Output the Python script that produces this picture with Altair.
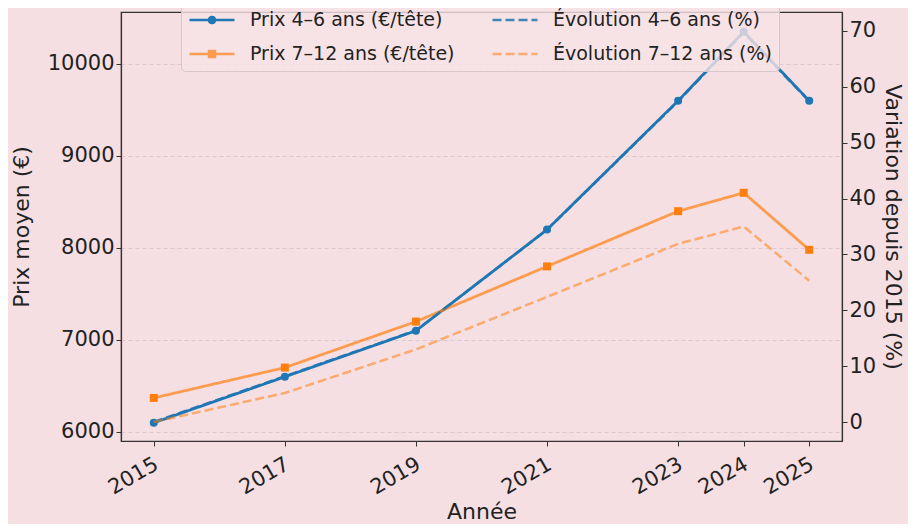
import altair as alt
import pandas as pd

years = [2015, 2017, 2019, 2021, 2023, 2024, 2025]
prix_4_6 = [6100, 6600, 7100, 8200, 9600, 10350, 9600]
prix_7_12 = [6370, 6700, 7200, 7800, 8400, 8600, 7980]
evol_4_6 = [0.0, 8.2, 16.4, 34.4, 57.4, 69.7, 57.4]
evol_7_12 = [0.0, 5.2, 13.0, 22.4, 31.9, 35.0, 25.3]

S_P46 = "Prix 4–6 ans (€/tête)"
S_P712 = "Prix 7–12 ans (€/tête)"
S_E46 = "Évolution 4–6 ans (%)"
S_E712 = "Évolution 7–12 ans (%)"

BG = "#f6dfe3"
FONT = "DejaVu Sans"

price = pd.DataFrame(
    [{"year": y, "price": v, "series": S_P46} for y, v in zip(years, prix_4_6)]
    + [{"year": y, "price": v, "series": S_P712} for y, v in zip(years, prix_7_12)]
)
pct = pd.DataFrame(
    [{"year": y, "pct": v, "series": S_E46} for y, v in zip(years, evol_4_6)]
    + [{"year": y, "pct": v, "series": S_E712} for y, v in zip(years, evol_7_12)]
)

order = [S_P46, S_E46, S_P712, S_E712]


def circ(r):
    return f"M{r},0A{r},{r},0,1,1,{-r},0A{r},{r},0,1,1,{r},0Z"


def sq(s):
    return f"M{-s},{-s}H{s}V{s}H{-s}Z"


path_circle = "M-1,0H1" + circ(0.058) + circ(0.133)
path_square = "M-1,0H1" + sq(0.06) + sq(0.13)
path_line = "M-1,0H1"
sym_expr = (
    f"datum.value == '{S_P46}' ? '{path_circle}' : "
    f"(datum.value == '{S_P712}' ? '{path_square}' : '{path_line}')"
)

legend = alt.Legend(
    title=None,
    orient="none",
    legendX=60,
    legendY=-23,
    columns=2,
    direction="horizontal",
    symbolType={"expr": sym_expr},
    symbolSize=2025,
    symbolStrokeWidth=2.6,
    labelFont=FONT,
    labelFontSize=19,
    labelColor="#222222",
    labelOffset=14,
    labelLimit=400,
    columnPadding=32,
    rowPadding=-10,
    padding=7,
    fillColor="rgba(248,226,230,0.8)",
    strokeColor="#d8c6ca",
    cornerRadius=4,
)

color = alt.Color(
    "series:N",
    scale=alt.Scale(domain=order, range=["#1f77b4", "#1f77b4", "#ff7f0e", "#ff7f0e"]),
    legend=legend,
)
dash = alt.StrokeDash(
    "series:N",
    scale=alt.Scale(domain=order, range=[[1, 0], [9, 4], [1, 0], [9, 4]]),
    legend=legend,
)
opac = alt.Opacity(
    "series:N",
    scale=alt.Scale(domain=order, range=[1, 0.55, 1, 0.65]),
    legend=legend,
)

x = alt.X(
    "year:Q",
    scale=alt.Scale(domain=[2014.5, 2025.5], nice=False, zero=False),
    axis=alt.Axis(
        values=years,
        format="d",
        labelAngle=-30,
        labelAlign="right",
        labelBaseline="top",
        labelPadding=7,
        labelOffset=-3,
        grid=False,
        title="Année",
        titleY=82,
        titleBaseline="bottom",
    ),
)

y_left = alt.Y(
    "price:Q",
    scale=alt.Scale(domain=[5902, 10565], nice=False, zero=False),
    axis=alt.Axis(
        values=[6000, 7000, 8000, 9000, 10000],
        format="d",
        grid=True,
        gridDash=[4, 3],
        gridColor="#dcc8cd",
        title="Prix moyen (€)",
        titlePadding=14,
    ),
)

y_right = alt.Y(
    "pct:Q",
    scale=alt.Scale(domain=[-3.4, 73.4], nice=False, zero=False),
    axis=alt.Axis(
        orient="right",
        values=[0, 10, 20, 30, 40, 50, 60, 70],
        format="d",
        grid=False,
        title="Variation depuis 2015 (%)",
        titlePadding=5,
    ),
)

price_line = alt.Chart(price).mark_line(strokeWidth=2.8).encode(
    x=x, y=y_left, color=color, strokeDash=dash, opacity=opac
)
price_pts = alt.Chart(price).mark_point(filled=True, size=64, opacity=1).encode(
    x=x,
    y=y_left,
    color=alt.Color(
        "series:N",
        scale=alt.Scale(domain=order, range=["#1f77b4", "#1f77b4", "#ff7f0e", "#ff7f0e"]),
        legend=None,
    ),
    shape=alt.Shape(
        "series:N",
        scale=alt.Scale(domain=[S_P46, S_P712], range=["circle", "square"]),
        legend=None,
    ),
)
pct_line = alt.Chart(pct).mark_line(strokeWidth=2.5).encode(
    x=x, y=y_right, color=color, strokeDash=dash, opacity=opac
)

left = alt.layer(price_line, price_pts)
chart = (
    alt.layer(left, pct_line)
    .resolve_scale(y="independent")
    .properties(
        width=721,
        height=429,
        autosize=alt.AutoSizeParams(type="none"),
        padding={"left": 113, "top": 4, "right": 66, "bottom": 83},
        background=BG,
    )
    .configure_view(stroke="#333333", strokeWidth=1.2, fill=BG)
    .configure_axis(
        labelFont=FONT,
        titleFont=FONT,
        labelFontSize=21,
        titleFontSize=22,
        titleFontWeight="normal",
        labelColor="#222222",
        titleColor="#222222",
        tickColor="#333333",
        domainColor="#333333",
        tickSize=5,
        domainWidth=1.2,
    )
)

chart.save("out.html", embed_options={"renderer": "svg", "actions": False})
